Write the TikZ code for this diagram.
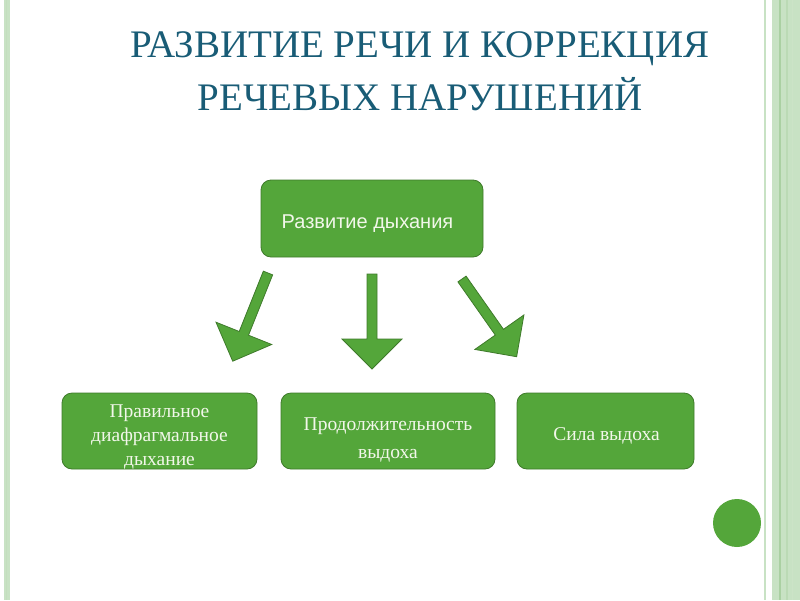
\documentclass[tikz,border=0pt]{standalone}
\usepackage{fontspec}
\setmainfont{Liberation Serif}
\newfontfamily\sansf{Liberation Sans}
\definecolor{titleteal}{RGB}{25,92,118}
\definecolor{boxgreen}{RGB}{84,166,58}
\definecolor{boxedge}{RGB}{62,122,42}
\definecolor{boxtext}{RGB}{242,247,234}
\definecolor{bandlight}{RGB}{200,226,196}
\definecolor{banddark}{RGB}{170,208,162}
\tikzset{
  gbox/.style={draw=boxedge, line width=0.8pt, fill=boxgreen, rounded corners=10pt,
    inner sep=0pt},
  boxlabel/.style={inner sep=0pt, anchor=base, text=boxtext, font=\fontsize{19.5}{24}\selectfont},
  blockarrow/.style={draw=boxedge, line width=0.8pt, fill=boxgreen, line join=miter},
}
\begin{document}
\begin{tikzpicture}[x=1pt,y=-1pt]
\useasboundingbox (0,0) rectangle (800,600);
% borders
\fill[bandlight] (3.5,0) rectangle (9.5,600);
\fill[banddark!70] (5.5,0) rectangle (7,600);
\fill[bandlight] (764,0) rectangle (766,600);
\fill[bandlight] (772,0) rectangle (800,600);
\fill[banddark] (778.5,0) rectangle (781,600);
\fill[banddark!80] (786,0) rectangle (787.5,600);
\fill[banddark!60] (792,0) rectangle (793,600);
% circle
\fill[boxgreen] (737,523) circle (24);
% title
\node[text=titleteal, font=\fontsize{39}{53}\selectfont, align=center, anchor=base] (title) at (420,110)
  {РАЗВИТИЕ РЕЧИ И КОРРЕКЦИЯ\\РЕЧЕВЫХ НАРУШЕНИЙ};
% boxes
\node[gbox, minimum width=222, minimum height=77] (top) at (372,218.5) {};
\node[boxlabel, font=\sansf\fontsize{20}{24}\selectfont] (topt) at (367.5,228) {Развитие дыхания};
\node[gbox, minimum width=195, minimum height=76] (b1) at (159.5,431) {};
\node[boxlabel] (b1a) at (159.5,417) {Правильное};
\node[boxlabel] (b1b) at (159.5,441) {диафрагмальное};
\node[boxlabel] (b1c) at (159.5,465) {дыхание};
\node[gbox, minimum width=214, minimum height=76] (b2) at (388,431) {};
\node[boxlabel] (b2a) at (388,430) {Продолжительность};
\node[boxlabel] (b2b) at (388,458) {выдоха};
\node[gbox, minimum width=177, minimum height=76] (b3) at (605.5,431) {};
\node[boxlabel] (b3a) at (606.5,440) {Сила выдоха};
% block arrows
\begin{scope}[shift={(268,273)}, rotate=-21.8]
\draw[blockarrow] (-5,0) -- (5,0) -- (5,65) -- (30,65) -- (0,95) -- (-30,65) -- (-5,65) -- cycle;
\end{scope}
\begin{scope}[shift={(372,274)}]
\draw[blockarrow] (-5,0) -- (5,0) -- (5,65) -- (30,65) -- (0,95) -- (-30,65) -- (-5,65) -- cycle;
\end{scope}
\begin{scope}[shift={(462,279)}, rotate=35.1]
\draw[blockarrow] (-5,0) -- (5,0) -- (5,65) -- (30,65) -- (0,95) -- (-30,65) -- (-5,65) -- cycle;
\end{scope}
\end{tikzpicture}
\end{document}
